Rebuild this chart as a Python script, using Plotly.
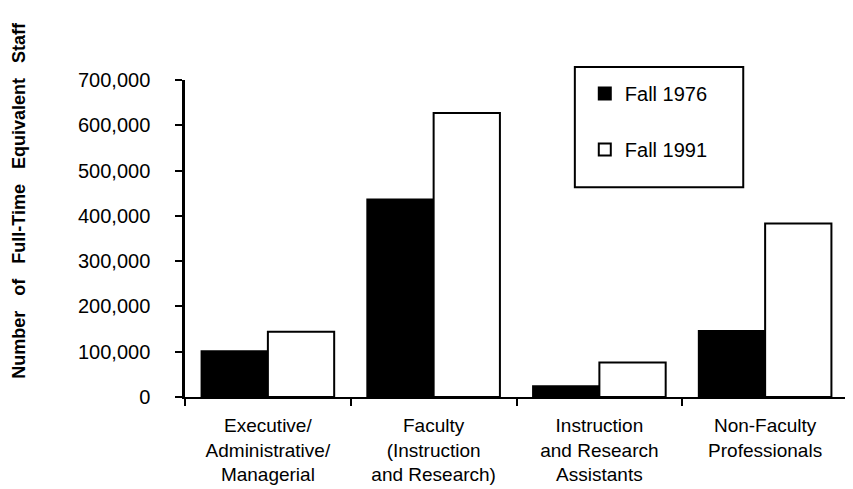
import plotly.graph_objects as go

categories = [
    "Executive/<br>Administrative/<br>Managerial",
    "Faculty<br>(Instruction<br>and Research)",
    "Instruction<br>and Research<br>Assistants",
    "Non-Faculty<br>Professionals",
]
fall_1976 = [101000, 436000, 24000, 146000]
fall_1991 = [144000, 627000, 76000, 383000]
y_ticks = [0, 100000, 200000, 300000, 400000, 500000, 600000, 700000]
y_tick_labels = ["0", "100,000", "200,000", "300,000", "400,000", "500,000", "600,000", "700,000"]

FONT = "Liberation Sans, Arial, Helvetica, sans-serif"
NB = "\u00a0" * 3
y_title = NB.join(["Number", "of", "Full-Time", "Equivalent", "Staff"])

fig = go.Figure()
fig.add_trace(go.Bar(
    x=categories, y=fall_1976, name="Fall 1976", legendgroup="a",
    marker=dict(color="black", line=dict(color="black", width=2)),
))
fig.add_trace(go.Bar(
    x=categories, y=fall_1991, name="Fall 1991", legendgroup="b",
    marker=dict(color="white", line=dict(color="black", width=2)),
))

boundaries = [i + 0.5 for i in range(len(categories))]

fig.update_layout(
    width=853, height=489,
    margin=dict(l=177, r=13, t=72, b=100),
    paper_bgcolor="white", plot_bgcolor="white",
    font=dict(family=FONT, color="black", size=19),
    barmode="group", bargap=0.2, bargroupgap=0,
    showlegend=True,
    legend=dict(
        x=0.603, y=1.019, xanchor="left", yanchor="top",
        borderwidth=0, bgcolor="rgba(0,0,0,0)",
        font=dict(size=20, family=FONT),
        tracegroupgap=27,
        itemwidth=30,
    ),
    xaxis=dict(
        type="category", tickson="boundaries",
        showline=True, linecolor="black", linewidth=2,
        ticks="outside", ticklen=7, tickwidth=2, tickcolor="black",
        showgrid=False, zeroline=False,
        tickfont=dict(size=19, family=FONT),
        ticklabelstandoff=10,
        range=[-0.5, len(categories) - 0.5],
    ),
    xaxis2=dict(
        overlaying="x", anchor="y", side="bottom", type="linear",
        range=[-0.5, len(categories) - 0.5],
        tickmode="array", tickvals=boundaries,
        ticks="inside", ticklen=7, tickwidth=2, tickcolor="black",
        showticklabels=False, showgrid=False, zeroline=False, showline=False,
    ),
    yaxis=dict(
        range=[0, 700000],
        tickmode="array", tickvals=y_ticks, ticktext=y_tick_labels,
        showline=True, linecolor="black", linewidth=2.5,
        ticks="outside", ticklen=7, tickwidth=2, tickcolor="black",
        showgrid=False, zeroline=False,
        tickfont=dict(size=20, family=FONT),
        ticklabelstandoff=21,
    ),
    yaxis2=dict(
        overlaying="y", anchor="x", side="left",
        range=[0, 700000],
        tickmode="array", tickvals=y_ticks,
        ticks="inside", ticklen=7, tickwidth=2, tickcolor="black",
        showticklabels=False, showgrid=False, zeroline=False, showline=False,
    ),
    shapes=[dict(
        type="rect", xref="paper", yref="paper",
        x0=0.588, x1=0.842, y0=0.662, y1=1.041,
        line=dict(color="black", width=2), fillcolor="rgba(0,0,0,0)",
    )],
    annotations=[dict(
        text=y_title, textangle=-90, xref="paper", yref="paper",
        x=-0.25, y=0.62, xanchor="center", yanchor="middle",
        showarrow=False, font=dict(size=18, family=FONT, weight="bold"),
    )],
)

fig.write_html("out.html")
